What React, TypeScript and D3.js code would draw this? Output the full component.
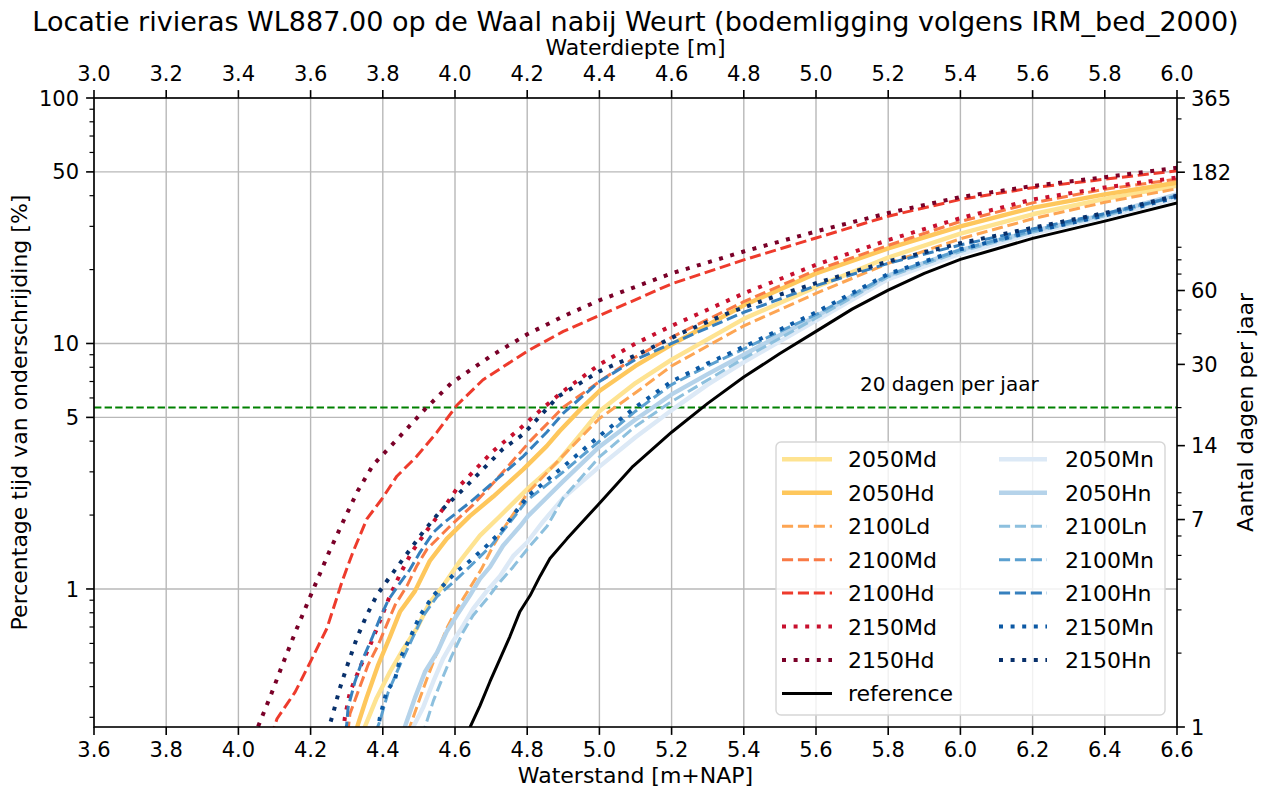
import React from "react";
import * as d3 from "d3";

type Pt = [number, number]; // [waterstand m+NAP, % tijd onderschrijding]

// Axis tick values
const WATERSTAND_TICKS = [3.6, 3.8, 4.0, 4.2, 4.4, 4.6, 4.8, 5.0, 5.2, 5.4, 5.6, 5.8, 6.0, 6.2, 6.4, 6.6];
const WATERDIEPTE_TICKS = [3.0, 3.2, 3.4, 3.6, 3.8, 4.0, 4.2, 4.4, 4.6, 4.8, 5.0, 5.2, 5.4, 5.6, 5.8, 6.0];
const PERCENT_TICKS = [1, 5, 10, 50, 100];
const DAY_TICKS = [1, 7, 14, 30, 60, 182, 365];

const BED_LEVEL = 0.6; // waterdiepte = waterstand - bodemligging
const DAYS_PER_YEAR = 365;
const THRESHOLD_DAYS = 20;

// Onderschrijdingscurves per klimaatscenario
const s2050Md: Pt[] = [[4.345, 0.26], [4.35, 0.274], [4.383, 0.36], [4.42, 0.46], [4.457, 0.57], [4.494, 0.69], [4.53, 0.88], [4.567, 1.03], [4.614, 1.3], [4.669, 1.65], [4.72, 1.95], [4.8, 2.55], [4.885, 3.3], [4.95, 4.3], [5.0, 5.3], [5.1, 6.9], [5.2, 8.6], [5.4, 12.6], [5.6, 17.0], [5.8, 22.4], [6.0, 28.0], [6.2, 33.6], [6.4, 38.8], [6.6, 43.9]];
const s2050Hd: Pt[] = [[4.325, 0.26], [4.331, 0.28], [4.355, 0.36], [4.387, 0.49], [4.42, 0.64], [4.448, 0.81], [4.489, 0.98], [4.53, 1.3], [4.577, 1.6], [4.641, 1.98], [4.706, 2.38], [4.789, 3.07], [4.854, 3.82], [4.89, 4.4], [4.952, 5.48], [5.0, 6.4], [5.1, 8.1], [5.2, 9.9], [5.4, 14.3], [5.6, 19.3], [5.8, 24.4], [6.0, 30.0], [6.2, 35.7], [6.4, 40.5], [6.6, 45.2]];
const s2100Ld: Pt[] = [[4.47, 0.26], [4.475, 0.274], [4.494, 0.33], [4.522, 0.43], [4.55, 0.55], [4.577, 0.69], [4.605, 0.83], [4.641, 1.01], [4.674, 1.21], [4.706, 1.5], [4.733, 1.75], [4.802, 2.47], [4.9, 3.5], [5.0, 4.95], [5.1, 6.3], [5.2, 8.1], [5.4, 11.8], [5.6, 16.0], [5.8, 21.2], [6.0, 26.7], [6.2, 32.2], [6.4, 37.6], [6.6, 42.7]];
const s2100Md: Pt[] = [[4.303, 0.26], [4.309, 0.31], [4.331, 0.38], [4.359, 0.49], [4.387, 0.59], [4.415, 0.74], [4.434, 0.86], [4.467, 1.03], [4.494, 1.24], [4.522, 1.45], [4.586, 1.8], [4.65, 2.2], [4.706, 2.7], [4.808, 4.0], [4.9, 5.5], [5.0, 7.0], [5.1, 8.8], [5.2, 10.6], [5.4, 14.8], [5.6, 19.9], [5.8, 25.1], [6.0, 31.4], [6.2, 37.4], [6.4, 42.5], [6.6, 46.7]];
const s2100Hd: Pt[] = [[4.09, 0.25], [4.107, 0.296], [4.157, 0.38], [4.198, 0.5], [4.245, 0.69], [4.287, 1.07], [4.317, 1.41], [4.356, 1.93], [4.397, 2.32], [4.439, 2.88], [4.494, 3.47], [4.55, 4.35], [4.605, 5.6], [4.677, 7.1], [4.8, 9.3], [4.9, 11.2], [5.0, 13.0], [5.2, 17.5], [5.4, 21.9], [5.6, 26.9], [5.8, 33.0], [6.0, 38.6], [6.2, 43.1], [6.4, 46.7], [6.6, 50.5]];
const s2150Md: Pt[] = [[4.29, 0.26], [4.295, 0.3], [4.309, 0.38], [4.337, 0.48], [4.365, 0.59], [4.392, 0.74], [4.42, 0.94], [4.448, 1.15], [4.48, 1.41], [4.522, 1.73], [4.56, 2.05], [4.605, 2.56], [4.705, 3.64], [4.78, 4.5], [4.84, 5.4], [4.9, 6.4], [5.0, 8.2], [5.1, 10.0], [5.2, 11.8], [5.4, 16.0], [5.6, 20.9], [5.8, 26.4], [6.0, 32.4], [6.2, 38.6], [6.4, 43.2], [6.6, 47.4]];
const s2150Hd: Pt[] = [[4.04, 0.25], [4.054, 0.274], [4.09, 0.37], [4.124, 0.5], [4.16, 0.68], [4.204, 0.97], [4.25, 1.4], [4.295, 1.95], [4.33, 2.5], [4.373, 3.2], [4.442, 4.1], [4.517, 5.4], [4.59, 6.9], [4.7, 8.9], [4.8, 10.9], [4.9, 12.9], [5.0, 15.0], [5.2, 19.3], [5.4, 23.7], [5.6, 28.6], [5.8, 34.0], [6.0, 39.5], [6.2, 43.8], [6.4, 47.6], [6.6, 52.0]];
const sReference: Pt[] = [[4.638, 0.26], [4.642, 0.274], [4.669, 0.334], [4.697, 0.42], [4.725, 0.52], [4.752, 0.64], [4.78, 0.81], [4.808, 0.94], [4.836, 1.13], [4.863, 1.33], [4.91, 1.6], [4.996, 2.2], [5.093, 3.16], [5.2, 4.35], [5.3, 5.7], [5.4, 7.3], [5.5, 9.1], [5.6, 11.2], [5.7, 13.8], [5.8, 16.5], [5.9, 19.3], [6.0, 22.0], [6.2, 26.8], [6.4, 31.5], [6.6, 37.4]];
const s2050Mn: Pt[] = [[4.478, 0.25], [4.484, 0.274], [4.512, 0.33], [4.54, 0.42], [4.567, 0.52], [4.594, 0.61], [4.623, 0.71], [4.65, 0.83], [4.688, 0.98], [4.725, 1.13], [4.761, 1.36], [4.8, 1.55], [4.844, 1.88], [4.9, 2.35], [5.0, 3.15], [5.1, 4.15], [5.2, 5.35], [5.3, 6.8], [5.4, 8.4], [5.5, 10.2], [5.6, 12.4], [5.8, 18.3], [6.0, 23.2], [6.2, 28.0], [6.4, 32.8], [6.6, 39.0]];
const s2050Hn: Pt[] = [[4.455, 0.26], [4.461, 0.274], [4.489, 0.36], [4.517, 0.46], [4.55, 0.55], [4.577, 0.67], [4.605, 0.78], [4.641, 0.94], [4.669, 1.1], [4.697, 1.23], [4.733, 1.5], [4.78, 1.8], [4.802, 1.98], [4.9, 2.75], [5.0, 3.8], [5.1, 4.9], [5.2, 6.2], [5.3, 7.5], [5.4, 9.0], [5.5, 10.8], [5.6, 12.9], [5.8, 18.9], [6.0, 24.0], [6.2, 28.7], [6.4, 33.5], [6.6, 40.5]];
const s2100Ln: Pt[] = [[4.51, 0.25], [4.517, 0.274], [4.54, 0.35], [4.567, 0.44], [4.59, 0.53], [4.623, 0.67], [4.65, 0.78], [4.688, 0.91], [4.725, 1.07], [4.761, 1.23], [4.808, 1.5], [4.855, 1.8], [4.9, 2.35], [5.0, 3.45], [5.1, 4.6], [5.2, 5.8], [5.3, 7.1], [5.4, 8.7], [5.5, 10.5], [5.6, 12.7], [5.8, 18.7], [6.0, 23.7], [6.2, 28.4], [6.4, 33.1], [6.6, 39.8]];
const s2100Mn: Pt[] = [[4.38, 0.26], [4.392, 0.29], [4.415, 0.38], [4.45, 0.5], [4.48, 0.62], [4.51, 0.77], [4.55, 0.93], [4.6, 1.08], [4.65, 1.27], [4.7, 1.5], [4.75, 1.85], [4.8, 2.3], [4.9, 3.0], [5.0, 4.0], [5.1, 5.3], [5.2, 6.8], [5.3, 8.1], [5.4, 9.5], [5.5, 11.2], [5.6, 13.1], [5.8, 19.0], [6.0, 24.1], [6.2, 28.8], [6.4, 33.5], [6.6, 40.0]];
const s2100Hn: Pt[] = [[4.295, 0.26], [4.3, 0.28], [4.304, 0.33], [4.323, 0.42], [4.345, 0.52], [4.37, 0.63], [4.392, 0.76], [4.415, 0.9], [4.442, 1.03], [4.475, 1.2], [4.503, 1.41], [4.54, 1.7], [4.567, 1.85], [4.641, 2.25], [4.716, 2.8], [4.789, 3.47], [4.854, 4.35], [4.9, 5.2], [5.0, 7.0], [5.1, 8.6], [5.2, 10.0], [5.4, 13.4], [5.6, 17.2], [5.8, 21.2], [6.0, 25.2], [6.2, 29.3], [6.4, 33.8], [6.6, 39.8]];
const s2150Mn: Pt[] = [[4.385, 0.26], [4.392, 0.3], [4.41, 0.38], [4.434, 0.43], [4.448, 0.52], [4.475, 0.63], [4.503, 0.78], [4.54, 0.94], [4.577, 1.07], [4.605, 1.18], [4.641, 1.3], [4.688, 1.5], [4.725, 1.7], [4.802, 2.39], [4.9, 3.15], [5.0, 4.2], [5.1, 5.5], [5.2, 7.0], [5.3, 8.3], [5.4, 9.7], [5.5, 11.4], [5.6, 13.4], [5.8, 19.2], [6.0, 24.2], [6.2, 28.6], [6.4, 33.2], [6.6, 39.5]];
const s2150Hn: Pt[] = [[4.245, 0.26], [4.25, 0.27], [4.262, 0.31], [4.28, 0.39], [4.3, 0.48], [4.328, 0.63], [4.355, 0.78], [4.383, 0.94], [4.41, 1.07], [4.457, 1.33], [4.512, 1.71], [4.559, 2.07], [4.623, 2.55], [4.678, 3.08], [4.733, 3.72], [4.789, 4.27], [4.835, 5.05], [4.885, 6.07], [5.0, 7.7], [5.104, 9.0], [5.232, 11.1], [5.362, 13.4], [5.5, 15.8], [5.6, 17.6], [5.8, 21.6], [6.0, 25.6], [6.2, 29.6], [6.4, 34.0], [6.6, 40.0]];

type LineStyle = "solid" | "dashed" | "dotted" | "ref";
interface Series { name: string; data: Pt[]; color: string; style: LineStyle }

// Plot order: droge scenario's, referentie, natte scenario's
const SERIES: Series[] = [
  { name: "2050Md", data: s2050Md, color: "#fee391", style: "solid" },
  { name: "2050Hd", data: s2050Hd, color: "#fec75c", style: "solid" },
  { name: "2100Ld", data: s2100Ld, color: "#fda553", style: "dashed" },
  { name: "2100Md", data: s2100Md, color: "#f97a45", style: "dashed" },
  { name: "2100Hd", data: s2100Hd, color: "#ee3b2c", style: "dashed" },
  { name: "2150Md", data: s2150Md, color: "#c8102e", style: "dotted" },
  { name: "2150Hd", data: s2150Hd, color: "#7a0028", style: "dotted" },
  { name: "reference", data: sReference, color: "#000000", style: "ref" },
  { name: "2050Mn", data: s2050Mn, color: "#dce9f6", style: "solid" },
  { name: "2050Hn", data: s2050Hn, color: "#b5d3ea", style: "solid" },
  { name: "2100Ln", data: s2100Ln, color: "#8dc0de", style: "dashed" },
  { name: "2100Mn", data: s2100Mn, color: "#5ba0d0", style: "dashed" },
  { name: "2100Hn", data: s2100Hn, color: "#3680be", style: "dashed" },
  { name: "2150Mn", data: s2150Mn, color: "#0c59a4", style: "dotted" },
  { name: "2150Hn", data: s2150Hn, color: "#08306b", style: "dotted" },
];

const STROKE: Record<LineStyle, { width: number; dash?: string }> = {
  solid: { width: 4.4 },
  dashed: { width: 3, dash: "11.1 4.8" },
  dotted: { width: 4, dash: "4 7.6" },
  ref: { width: 3 },
};

const FONT = "DejaVu Sans, sans-serif";
const PLOT = { left: 94, right: 1177, top: 98, bottom: 727 };

export default function App() {
  const x = d3.scaleLinear().domain([3.6, 6.6]).range([PLOT.left, PLOT.right]);
  const xTop = d3.scaleLinear().domain([3.6 - BED_LEVEL, 6.6 - BED_LEVEL]).range([PLOT.left, PLOT.right]);
  const y = d3.scaleLog().domain([100 / DAYS_PER_YEAR, 100]).range([PLOT.bottom, PLOT.top]);
  const yDays = d3.scaleLog().domain([1, DAYS_PER_YEAR]).range([PLOT.bottom, PLOT.top]);

  const line = d3.line<Pt>().x((d) => x(d[0])).y((d) => y(d[1]));

  const isDecade = (v: number) => Math.abs(Math.log10(v) - Math.round(Math.log10(v))) < 1e-9;
  const pctMinor = y.ticks().filter((v) => !isDecade(v) && !PERCENT_TICKS.some((m) => Math.abs(m - v) < 1e-9));
  const dayMinor = yDays.ticks().filter((v) => !isDecade(v) && !DAY_TICKS.some((m) => Math.abs(m - v) < 1e-9));

  const thresholdPct = (THRESHOLD_DAYS / DAYS_PER_YEAR) * 100;

  const MAJ = 7.9;
  const MIN = 4.5;
  const tickFont = 21;

  // legend layout
  const legend = { x: 776, y: 442, w: 389, h: 273 };
  const rowY = (i: number) => 459.3 + i * 33.45;
  const col1 = SERIES.slice(0, 8);
  const col2 = SERIES.slice(8);

  const handle = (s: Series, x0: number, x1: number, yy: number) => {
    const st = STROKE[s.style];
    return (
      <line x1={x0} x2={x1} y1={yy} y2={yy} stroke={s.color} strokeWidth={st.width}
        strokeDasharray={st.dash} />
    );
  };

  return (
    <svg width={1267} height={791} style={{ position: "absolute", left: 0, top: 0, background: "#fff" }}
      fontFamily={FONT}>
      <defs>
        <clipPath id="plot-area">
          <rect x={PLOT.left} y={PLOT.top} width={PLOT.right - PLOT.left} height={PLOT.bottom - PLOT.top} />
        </clipPath>
      </defs>
      <rect x={0} y={0} width={1267} height={791} fill="#fff" />

      {/* grid */}
      <g stroke="#b8b8b8" strokeWidth={1.4}>
        {WATERSTAND_TICKS.map((t) => (
          <line key={"gx" + t} x1={x(t)} x2={x(t)} y1={PLOT.top} y2={PLOT.bottom} />
        ))}
        {PERCENT_TICKS.map((t) => (
          <line key={"gy" + t} x1={PLOT.left} x2={PLOT.right} y1={y(t)} y2={y(t)} />
        ))}
      </g>

      {/* 20 dagen per jaar */}
      <line x1={PLOT.left} x2={PLOT.right} y1={y(thresholdPct)} y2={y(thresholdPct)}
        stroke="#008000" strokeWidth={2} strokeDasharray="7.4 3.2" />
      <text x={860} y={y(thresholdPct) - 17} fontSize={20} fill="#000">20 dagen per jaar</text>

      {/* curves */}
      <g clipPath="url(#plot-area)" fill="none">
        {SERIES.map((s) => {
          const st = STROKE[s.style];
          return (
            <path key={s.name} d={line(s.data) || ""} stroke={s.color} strokeWidth={st.width}
              strokeDasharray={st.dash} strokeLinejoin="round" />
          );
        })}
      </g>

      {/* frame */}
      <rect x={PLOT.left} y={PLOT.top} width={PLOT.right - PLOT.left} height={PLOT.bottom - PLOT.top}
        fill="none" stroke="#000" strokeWidth={1.6} />

      {/* bottom axis */}
      <g>
        {WATERSTAND_TICKS.map((t) => (
          <g key={"bx" + t}>
            <line x1={x(t)} x2={x(t)} y1={PLOT.bottom} y2={PLOT.bottom + MAJ} stroke="#000" strokeWidth={1.6} />
            <text x={x(t)} y={PLOT.bottom + 30} textAnchor="middle" fontSize={tickFont}>{t.toFixed(1)}</text>
          </g>
        ))}
        <text x={(PLOT.left + PLOT.right) / 2} y={783} textAnchor="middle" fontSize={22}>Waterstand [m+NAP]</text>
      </g>

      {/* top axis */}
      <g>
        {WATERDIEPTE_TICKS.map((t) => (
          <g key={"tx" + t}>
            <line x1={xTop(t)} x2={xTop(t)} y1={PLOT.top} y2={PLOT.top - MAJ} stroke="#000" strokeWidth={1.6} />
            <text x={xTop(t)} y={PLOT.top - 17} textAnchor="middle" fontSize={tickFont}>{t.toFixed(1)}</text>
          </g>
        ))}
        <text x={(PLOT.left + PLOT.right) / 2} y={55} textAnchor="middle" fontSize={22}>Waterdiepte [m]</text>
      </g>

      {/* left axis */}
      <g>
        {pctMinor.map((t) => (
          <line key={"lm" + t} x1={PLOT.left - MIN} x2={PLOT.left} y1={y(t)} y2={y(t)} stroke="#000" strokeWidth={1.2} />
        ))}
        {PERCENT_TICKS.map((t) => (
          <g key={"ly" + t}>
            <line x1={PLOT.left - MAJ} x2={PLOT.left} y1={y(t)} y2={y(t)} stroke="#000" strokeWidth={1.6} />
            <text x={PLOT.left - 15} y={y(t)} dy="0.36em" textAnchor="end" fontSize={tickFont}>{t}</text>
          </g>
        ))}
        <text transform={`translate(27,${(PLOT.top + PLOT.bottom) / 2}) rotate(-90)`} textAnchor="middle" fontSize={22}>
          Percentage tijd van onderschrijding [%]
        </text>
      </g>

      {/* right axis */}
      <g>
        {dayMinor.map((t) => (
          <line key={"rm" + t} x1={PLOT.right} x2={PLOT.right + MIN} y1={yDays(t)} y2={yDays(t)} stroke="#000" strokeWidth={1.2} />
        ))}
        {DAY_TICKS.map((t) => (
          <g key={"ry" + t}>
            <line x1={PLOT.right} x2={PLOT.right + MAJ} y1={yDays(t)} y2={yDays(t)} stroke="#000" strokeWidth={1.6} />
            <text x={PLOT.right + 14} y={yDays(t)} dy="0.36em" textAnchor="start" fontSize={tickFont}>{t}</text>
          </g>
        ))}
        <text transform={`translate(1253,${(PLOT.top + PLOT.bottom) / 2}) rotate(-90)`} textAnchor="middle" fontSize={22}>
          Aantal dagen per jaar
        </text>
      </g>

      {/* title */}
      <text x={(PLOT.left + PLOT.right) / 2} y={31} textAnchor="middle" fontSize={27}>
        Locatie rivieras WL887.00 op de Waal nabij Weurt (bodemligging volgens IRM_bed_2000)
      </text>

      {/* legend */}
      <g>
        <rect x={legend.x} y={legend.y} width={legend.w} height={legend.h} rx={5}
          fill="#fff" fillOpacity={0.8} stroke="#d6d6d6" strokeWidth={1.4} />
        {col1.map((s, i) => (
          <g key={"l1" + s.name}>
            {handle(s, 782, 832, rowY(i))}
            <text x={848} y={rowY(i) + 8} fontSize={22}>{s.name}</text>
          </g>
        ))}
        {col2.map((s, i) => (
          <g key={"l2" + s.name}>
            {handle(s, 999, 1047, rowY(i))}
            <text x={1065} y={rowY(i) + 8} fontSize={22}>{s.name}</text>
          </g>
        ))}
      </g>
    </svg>
  );
}
